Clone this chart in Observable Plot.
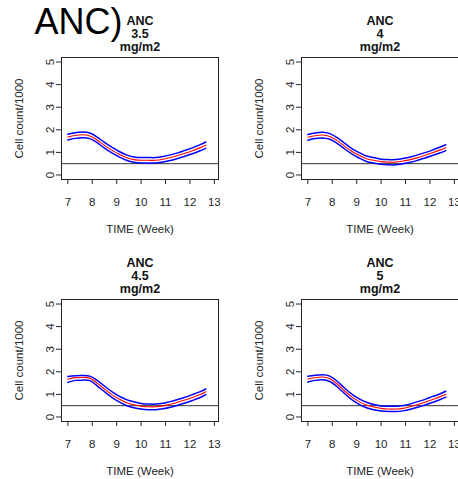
<!DOCTYPE html>
<html><head><meta charset="utf-8">
<script src="https://cdn.jsdelivr.net/npm/d3@7"></script>
<script src="https://cdn.jsdelivr.net/npm/@observablehq/plot@0.6"></script>
<style>
html,body{margin:0;padding:0;background:#fff;}
#wrap{position:relative;width:458px;height:479px;overflow:hidden;background:#fff;}
#wrap > .cell{position:absolute;width:239px;height:242px;}
#wrap svg{max-width:none !important;}
</style></head><body><div id="wrap"></div>
<script>
// ---- data ----
const weeks = [7.0, 7.3, 7.6, 7.9, 8.2, 8.5, 8.8, 9.1, 9.4, 9.7, 10.0, 10.3, 10.6, 10.9, 11.2, 11.5, 11.8, 12.1, 12.4, 12.65];

const doses = ["3.5", "4", "4.5", "5"];

const center35 = [1.68, 1.75, 1.78, 1.73, 1.55, 1.31, 1.10, 0.92, 0.77, 0.68, 0.65, 0.65, 0.65, 0.70, 0.77, 0.86, 0.96, 1.07, 1.20, 1.32];
const upper35  = [1.80, 1.87, 1.90, 1.86, 1.68, 1.44, 1.23, 1.04, 0.89, 0.80, 0.77, 0.77, 0.77, 0.82, 0.89, 0.98, 1.09, 1.20, 1.33, 1.46];
const lower35  = [1.55, 1.62, 1.65, 1.61, 1.43, 1.19, 0.98, 0.80, 0.65, 0.56, 0.53, 0.53, 0.53, 0.57, 0.64, 0.73, 0.83, 0.94, 1.06, 1.18];

const center4 = [1.67, 1.74, 1.77, 1.70, 1.52, 1.28, 1.05, 0.87, 0.72, 0.65, 0.59, 0.57, 0.57, 0.62, 0.68, 0.77, 0.87, 0.98, 1.10, 1.21];
const upper4  = [1.79, 1.86, 1.89, 1.83, 1.65, 1.41, 1.17, 0.99, 0.84, 0.77, 0.70, 0.68, 0.68, 0.73, 0.80, 0.89, 0.99, 1.10, 1.23, 1.34];
const lower4  = [1.54, 1.61, 1.64, 1.58, 1.40, 1.16, 0.93, 0.75, 0.60, 0.53, 0.47, 0.45, 0.45, 0.50, 0.56, 0.65, 0.75, 0.86, 0.97, 1.08];

const center45 = [1.67, 1.74, 1.75, 1.72, 1.50, 1.24, 0.99, 0.80, 0.64, 0.54, 0.48, 0.45, 0.45, 0.49, 0.56, 0.65, 0.75, 0.86, 0.98, 1.12];
const upper45  = [1.79, 1.83, 1.84, 1.81, 1.62, 1.37, 1.12, 0.92, 0.77, 0.67, 0.60, 0.57, 0.57, 0.61, 0.68, 0.77, 0.87, 0.99, 1.11, 1.24];
const lower45  = [1.53, 1.62, 1.63, 1.61, 1.38, 1.12, 0.87, 0.67, 0.51, 0.41, 0.35, 0.32, 0.32, 0.36, 0.43, 0.52, 0.62, 0.73, 0.85, 0.99];

const center5 = [1.68, 1.74, 1.77, 1.69, 1.46, 1.16, 0.89, 0.68, 0.53, 0.44, 0.38, 0.35, 0.35, 0.38, 0.46, 0.55, 0.65, 0.77, 0.89, 1.01];
const upper5  = [1.80, 1.85, 1.87, 1.81, 1.58, 1.28, 1.01, 0.80, 0.65, 0.55, 0.49, 0.47, 0.48, 0.51, 0.58, 0.68, 0.78, 0.90, 1.02, 1.14];
const lower5  = [1.55, 1.62, 1.65, 1.57, 1.34, 1.04, 0.77, 0.56, 0.41, 0.32, 0.26, 0.24, 0.24, 0.27, 0.34, 0.43, 0.53, 0.64, 0.76, 0.88];

const xTicks = [7, 8, 9, 10, 11, 12, 13];
const yTicks = [0, 1, 2, 3, 4, 5];
const threshold = [0.5];
const mainLabel = ["ANC)"];
const xLabel = "TIME (Week)";
const yLabel = "Cell count/1000";

const panels = [
  {dose: doses[0], center: center35, upper: upper35, lower: lower35, left: 0,   top: 0,   main: true},
  {dose: doses[1], center: center4,  upper: upper4,  lower: lower4,  left: 240, top: 0,   main: false},
  {dose: doses[2], center: center45, upper: upper45, lower: lower45, left: 0,   top: 242, main: false},
  {dose: doses[3], center: center5,  upper: upper5,  lower: lower5,  left: 240, top: 242, main: false}
];

const FONT = "'Liberation Sans', Arial, Helvetica, sans-serif";
const INK = "#262626";

function makePanel(p) {
  const rows = weeks.map((w, i) => ({week: w, lower: p.lower[i], center: p.center[i], upper: p.upper[i]}));
  const marks = [
    Plot.ruleY(threshold, {stroke: "#333", strokeWidth: 1}),
    Plot.line(rows, {x: "week", y: "upper", stroke: "#0000ff", strokeWidth: 1.5, curve: "natural"}),
    Plot.line(rows, {x: "week", y: "lower", stroke: "#0000ff", strokeWidth: 1.5, curve: "natural"}),
    Plot.line(rows, {x: "week", y: "center", stroke: "#ff0000", strokeWidth: 1.1, curve: "natural"}),
    Plot.frame({stroke: INK, strokeWidth: 1}),
    Plot.axisX({ticks: xTicks, tickSize: 5, tickPadding: 13, fontSize: 11.5, tickFormat: d => String(d),
      label: xLabel, labelAnchor: "center", labelArrow: "none", labelOffset: 53, fill: INK, stroke: INK}),
    Plot.axisY({ticks: yTicks, tickSize: 5, tickPadding: 3, tickRotate: -90, fontSize: 11.5, tickFormat: d => String(d),
      label: yLabel, labelAnchor: "center", labelArrow: "none", labelOffset: 47, fill: INK, stroke: INK}),
    Plot.text([`ANC\n${p.dose}\nmg/m2`], {frameAnchor: "top", text: d => d, dy: -42, lineAnchor: "top",
      fontWeight: "bold", fontSize: 12.5, lineHeight: 1.04, fill: "#111"})
  ];
  if (p.main) {
    marks.push(Plot.text(mainLabel, {frameAnchor: "top-left", text: d => d, dx: -27, dy: -49, lineAnchor: "top",
      textAnchor: "start", fontSize: 36, fill: "#000"}));
  }
  return Plot.plot({
    width: 239, height: 242,
    marginLeft: 61, marginRight: 21, marginTop: 57, marginBottom: 63,
    style: {fontFamily: FONT, fontSize: "11.5px", background: "white", color: INK, overflow: "visible"},
    x: {domain: [6.74, 13.17]},
    y: {domain: [-0.2, 5.2]},
    marks
  });
}

const wrap = document.getElementById("wrap");
for (const p of panels) {
  const cell = document.createElement("div");
  cell.className = "cell";
  cell.style.left = p.left + "px";
  cell.style.top = p.top + "px";
  cell.appendChild(makePanel(p));
  wrap.appendChild(cell);
}
</script>
</body></html>
